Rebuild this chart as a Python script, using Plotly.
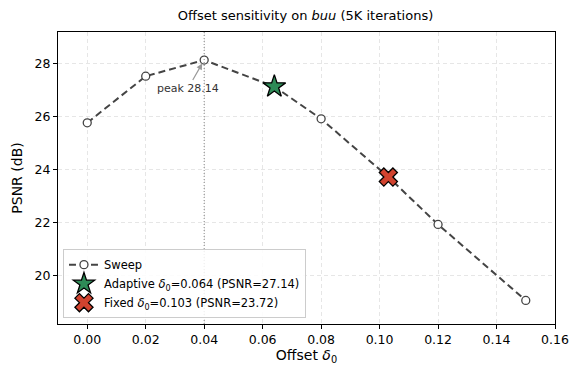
import plotly.graph_objects as go

# Data
sweep_x = [0.00, 0.02, 0.04, 0.064, 0.08, 0.103, 0.12, 0.15]
sweep_y = [25.77, 27.53, 28.14, 27.14, 25.92, 23.72, 21.93, 19.06]
adaptive_x = [0.064]
adaptive_y = [27.14]
fixed_x = [0.103]
fixed_y = [23.72]
peak_x = 0.04
peak_y = 28.14
x_ticks = [0.00, 0.02, 0.04, 0.06, 0.08, 0.10, 0.12, 0.14, 0.16]
y_ticks = [20, 22, 24, 26, 28]

FONT = "DejaVu Sans"

fig = go.Figure()

fig.add_trace(go.Scatter(
    x=sweep_x, y=sweep_y, mode="lines+markers", name="Sweep",
    line=dict(color="#444444", width=2, dash="7px,4px"),
    marker=dict(symbol="circle", size=8, color="white",
                line=dict(color="#444444", width=1.3)),
))
fig.add_trace(go.Scatter(
    x=adaptive_x, y=adaptive_y, mode="markers",
    name="Adaptive <i>δ</i><sub>0</sub>=0.064 (PSNR=27.14)",
    marker=dict(symbol="star", size=17, color="#2e8b57",
                line=dict(color="black", width=1.3)),
))
fig.add_trace(go.Scatter(
    x=fixed_x, y=fixed_y, mode="markers",
    name="Fixed <i>δ</i><sub>0</sub>=0.103 (PSNR=23.72)",
    marker=dict(symbol="x", size=16, color="#d1432f",
                line=dict(color="black", width=1.3)),
))

fig.add_vline(x=peak_x, line=dict(color="#888888", width=1, dash="1px,2px"), layer="above")

fig.add_annotation(
    x=peak_x, y=peak_y, text="peak 28.14", showarrow=True,
    ax=-16, ay=28, arrowhead=2, arrowsize=1, arrowwidth=1.2,
    arrowcolor="#999999", standoff=4,
    font=dict(family=FONT, size=11, color="#333333"),
)

axis_common = dict(
    showline=True, linecolor="black", linewidth=1, mirror=True,
    ticks="outside", ticklen=4, tickcolor="black",
    showgrid=True, gridcolor="#e6e6e6", griddash="4px,3px", gridwidth=1,
    zeroline=False, tickfont=dict(family=FONT, size=12.5, color="black"),
    automargin=False,
)

fig.update_xaxes(
    range=[-0.01, 0.16], tickvals=x_ticks,
    ticktext=[f"{v:.2f}" for v in x_ticks],
    title=dict(text="Offset <i>δ</i><sub>0</sub>", font=dict(family=FONT, size=14, color="black"), standoff=4),
    **axis_common,
)
fig.update_yaxes(
    range=[18.17, 29.2], tickvals=y_ticks,
    title=dict(text="PSNR (dB)", font=dict(family=FONT, size=14, color="black"), standoff=8),
    **axis_common,
)

fig.update_layout(
    width=571, height=365,
    margin=dict(l=58, r=16, t=32, b=41, autoexpand=False),
    plot_bgcolor="white", paper_bgcolor="white",
    font=dict(family=FONT, color="black"),
    title=dict(text="Offset sensitivity on <i>buu</i> (5K iterations)",
               x=0.535, xanchor="center", y=0.959, yanchor="middle",
               font=dict(family=FONT, size=13, color="black"), automargin=False),
    legend=dict(x=0.01, y=0.02, xanchor="left", yanchor="bottom",
                bgcolor="rgba(255,255,255,0.85)", bordercolor="#cccccc", borderwidth=1,
                font=dict(family=FONT, size=11.5, color="black"),
                tracegroupgap=0, itemsizing="trace"),
    showlegend=True,
)

fig.write_html("out.html", config={"displayModeBar": False},
               post_script="document.body.style.margin='0';document.body.style.overflow='hidden';")
